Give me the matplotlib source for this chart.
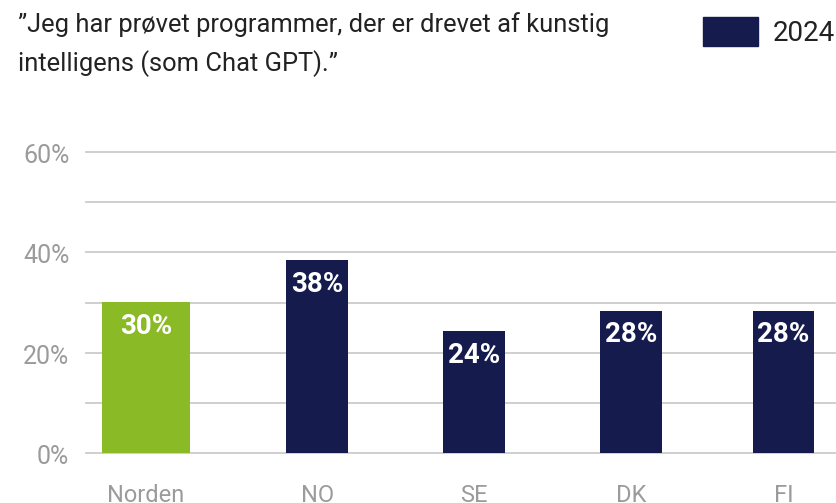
import matplotlib
matplotlib.use("Agg")
import matplotlib.pyplot as plt
import matplotlib.transforms as mtransforms
import numpy as np

# ---- data ----
categories = ["Norden", "NO", "SE", "DK", "FI"]
values = [30.1, 38.4, 24.3, 28.4, 28.4]
value_labels = ["30%", "38%", "24%", "28%", "28%"]
ytick_values = [0, 20, 40, 60]
ytick_labels = ["0%", "20%", "40%", "60%"]
grid_values = [0, 10, 20, 30, 40, 50, 60]
legend_label = "2024"
title_lines = ["\u201dJeg har pr\u00f8vet programmer, der er drevet af kunstig",
               "intelligens (som Chat GPT).\u201d"]

# ---- layout / style ----
xpos = np.array([0, 1.09, 2.09, 3.09, 4.06])
widths = [0.56, 0.39, 0.39, 0.39, 0.39]
GREEN = "#8aba26"
NAVY = "#161b4e"
colors = [GREEN, NAVY, NAVY, NAVY, NAVY]
FONT = "Roboto"
TICK_GRAY = "#9b9b9b"

W, H = 837, 503
fig = plt.figure(figsize=(W / 100, H / 100), dpi=100)
ax = fig.add_axes([86 / W, 1 - 453 / H, (835 - 86) / W, (453 - 152) / H])

for g in grid_values:
    ax.axhline(g, color="#cccccc", linewidth=1.3, zorder=0, clip_on=False)

ax.bar(xpos, values, width=widths, color=colors, zorder=3)
ax.set_xlim(-0.382, 4.389)
ax.set_ylim(0, 60)

ax.set_yticks(ytick_values)
ax.set_yticklabels(ytick_labels, family=FONT, fontweight="normal", fontsize=18, color=TICK_GRAY)
ax.tick_params(axis="y", length=0, pad=12)
shift = mtransforms.ScaledTranslation(0, -4 / 100, fig.dpi_scale_trans)
for t in ax.get_yticklabels():
    t.set_verticalalignment("center")
    t.set_transform(t.get_transform() + shift)

ax.set_xticks(xpos)
ax.set_xticklabels(categories, family=FONT, fontweight="normal", fontsize=17, color=TICK_GRAY)
ax.tick_params(axis="x", length=0, pad=22)

for s in ax.spines.values():
    s.set_visible(False)

for x, v, lab in zip(xpos, values, value_labels):
    ax.annotate(lab, (x, v), xytext=(0, -17.3), textcoords="offset points",
                ha="center", va="center", color="white", fontsize=20,
                fontweight="bold", family=FONT, zorder=4)

# title
fig.text(18 / W, 1 - 12 / H, title_lines[0], ha="left", va="top",
         fontsize=18.4, family=FONT, color="#222222")
fig.text(18 / W, 1 - 50 / H, title_lines[1], ha="left", va="top",
         fontsize=18.4, family=FONT, color="#222222")

# legend
fig.patches.append(plt.Rectangle((703 / W, 1 - 46 / H), 55 / W, 29 / H,
                                 transform=fig.transFigure, color=NAVY))
fig.text(773 / W, 1 - 33 / H, legend_label, ha="left", va="center",
         fontsize=20, family=FONT, color="#222222")

fig.savefig("out.png", dpi=100)
